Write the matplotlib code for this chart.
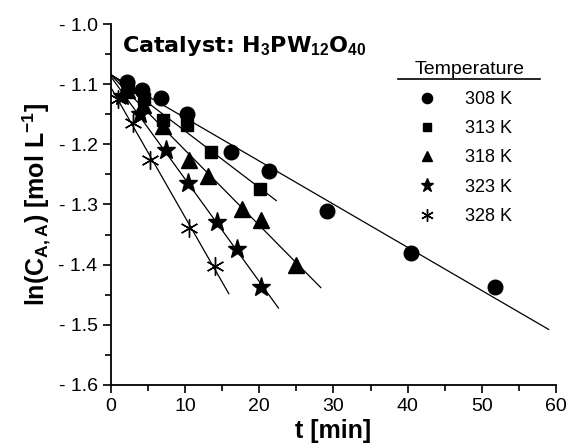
"""
Kinetics plot: ln(C) vs time for H3PW12O40 at five temperatures.
"""
import matplotlib
matplotlib.use("Agg")
import matplotlib.pyplot as plt
import numpy as np
from matplotlib.ticker import MultipleLocator, FuncFormatter

plt.rcParams["font.family"] = ["Liberation Sans", "DejaVu Sans"]
plt.rcParams["mathtext.fontset"] = "custom"
plt.rcParams["mathtext.rm"] = "Liberation Sans"
plt.rcParams["mathtext.bf"] = "Liberation Sans:bold"

temps = ["308 K", "313 K", "318 K", "323 K", "328 K"]

t_308 = [2.2, 4.2, 6.8, 10.3, 16.2, 21.3, 29.2, 40.5, 51.8]
y_308 = [-1.097, -1.110, -1.123, -1.150, -1.212, -1.245, -1.311, -1.381, -1.438]

t_313 = [2.3, 4.5, 7.0, 10.3, 13.5, 20.1]
y_313 = [-1.105, -1.125, -1.160, -1.168, -1.212, -1.275]

t_318 = [2.2, 4.3, 7.0, 10.6, 13.1, 17.7, 20.2, 25.0]
y_318 = [-1.110, -1.135, -1.170, -1.226, -1.253, -1.308, -1.325, -1.400]

t_323 = [1.5, 4.0, 7.4, 10.4, 14.3, 17.0, 20.3]
y_323 = [-1.120, -1.150, -1.210, -1.265, -1.329, -1.374, -1.438]

t_328 = [1.0, 3.0, 5.3, 10.6, 14.0]
y_328 = [-1.125, -1.165, -1.226, -1.339, -1.402]

# where each fitted line stops
fit_end = [59.0, 22.3, 28.3, 22.6, 15.9]

series = [(t_308, y_308), (t_313, y_313), (t_318, y_318), (t_323, y_323), (t_328, y_328)]
markers = [
    dict(marker="o", ms=10.5),
    dict(marker="s", ms=9),
    dict(marker="^", ms=11),
    dict(marker="*", ms=14),
    dict(marker=(6, 2, 0), ms=13, mew=1.0),
]

fig = plt.figure(figsize=(5.68, 4.46), dpi=100)
ax = fig.add_axes([0.195, 0.137, 0.784, 0.809])

handles = []
for (t, y), end, mk in zip(series, fit_end, markers):
    slope, icpt = np.polyfit(t, y, 1)
    tt = np.array([0.0, end])
    ax.plot(tt, icpt + slope * tt, color="black", lw=0.9, zorder=1)
    (h,) = ax.plot(t, y, ls="none", color="black", mfc="black", mec="black", zorder=2, **mk)
    handles.append(h)

ax.set_xlim(0, 60)
ax.set_ylim(-1.6, -1.0)
ax.xaxis.set_major_locator(MultipleLocator(10))
ax.xaxis.set_minor_locator(MultipleLocator(5))
ax.yaxis.set_major_locator(MultipleLocator(0.1))
ax.yaxis.set_minor_locator(MultipleLocator(0.05))
ax.yaxis.set_major_formatter(FuncFormatter(lambda v, p: f"- {abs(v):.1f}"))
ax.spines["top"].set_visible(False)
ax.spines["right"].set_visible(False)
for s in ["left", "bottom"]:
    ax.spines[s].set_linewidth(1.3)
ax.tick_params(which="major", direction="out", length=6, width=1.2, labelsize=14)
ax.tick_params(which="minor", direction="out", length=4, width=1.2)

ax.set_xlabel("t [min]", fontsize=18, fontweight="bold", labelpad=3)
ax.set_ylabel(r"ln(C$_{\mathbf{A,A}}$) [mol L$^{\mathbf{-1}}$]", fontsize=18,
              fontweight="bold", labelpad=4)

ax.text(0.025, 0.94, r"Catalyst: H$_{\mathbf{3}}$PW$_{\mathbf{12}}$O$_{\mathbf{40}}$",
        transform=ax.transAxes, fontsize=16, fontweight="bold", va="center",
        family="DejaVu Sans")

ax.text(0.805, 0.875, "Temperature", transform=ax.transAxes, fontsize=14,
        ha="center", va="center")
ax.plot([0.645, 0.964], [0.848, 0.848], transform=ax.transAxes, color="black", lw=1.2)

leg = ax.legend(handles, temps, loc="upper left", bbox_to_anchor=(0.67, 0.835),
                frameon=False, fontsize=13, markerscale=0.7, handlelength=1.2,
                handletextpad=1.5, labelspacing=0.68, borderaxespad=0)

fig.savefig("out.png", dpi=100)
